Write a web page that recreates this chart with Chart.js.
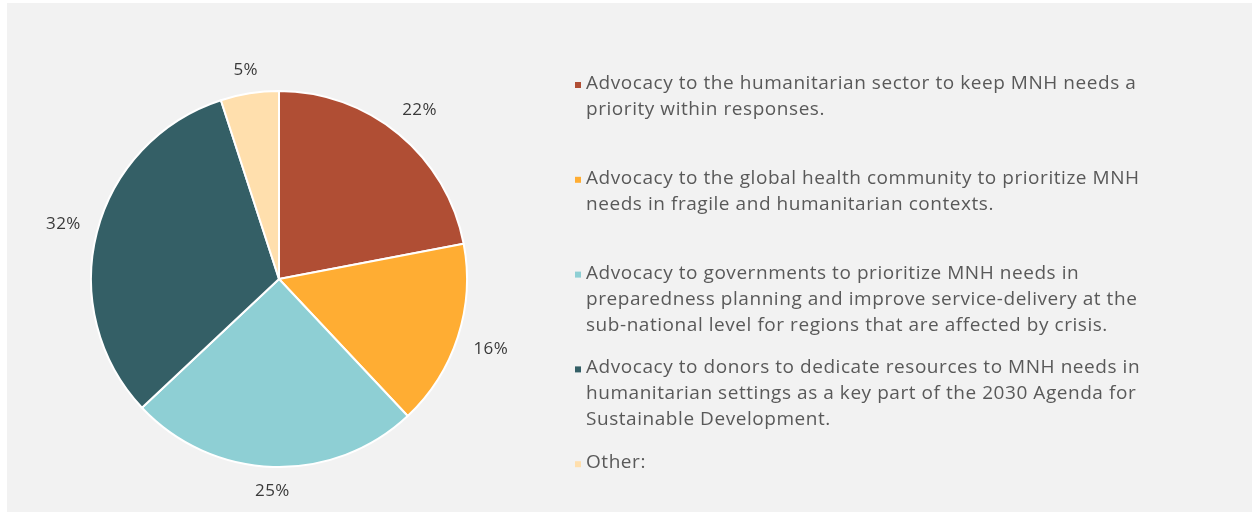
<!DOCTYPE html>
<html>
<head>
<meta charset="utf-8">
<script src="https://cdn.jsdelivr.net/npm/chart.js@4/dist/chart.umd.min.js"></script>
<style>
  html, body { margin: 0; padding: 0; background: #ffffff; }
  #wrap { position: absolute; left: 0; top: 0; width: 1252px; height: 512px; }
</style>
</head>
<body>
<div id="wrap"><canvas id="c" width="1252" height="512"></canvas></div>
<script>
// ---- data ----
const categories = [
  ["Advocacy to the humanitarian sector to keep MNH needs a", "priority within responses."],
  ["Advocacy to the global health community to prioritize MNH", "needs in fragile and humanitarian contexts."],
  ["Advocacy to governments to prioritize MNH needs in", "preparedness planning and improve service-delivery at the", "sub-national level for regions that are affected by crisis."],
  ["Advocacy to donors to dedicate resources to MNH needs in", "humanitarian settings as a key part of the 2030 Agenda for", "Sustainable Development."],
  ["Other:"]
];
const values = [22, 16, 25, 32, 5];
const sliceColors = ["#B04E34", "#FFAD33", "#8ECFD4", "#345F66", "#FFDFAD"];

const FONT = "'Open Sans', 'Noto Sans', sans-serif";

const bgPlugin = {
  id: 'bg',
  beforeDraw(chart) {
    const ctx = chart.ctx;
    ctx.save();
    ctx.fillStyle = '#ffffff';
    ctx.fillRect(0, 0, chart.width, chart.height);
    ctx.fillStyle = '#f2f2f2';
    ctx.fillRect(7, 3, chart.width - 7, chart.height - 3);
    ctx.restore();
  }
};

const pctLabels = {
  id: 'pctLabels',
  afterDatasetsDraw(chart) {
    const ctx = chart.ctx;
    const meta = chart.getDatasetMeta(0);
    const total = values.reduce((a, b) => a + b, 0);
    ctx.save();
    ctx.font = "17px " + FONT;
    if ('letterSpacing' in ctx) ctx.letterSpacing = '0.4px';
    ctx.fillStyle = '#3a3a3a';
    ctx.textAlign = 'center';
    ctx.textBaseline = 'middle';
    meta.data.forEach((arc, i) => {
      const p = arc.getProps(['x', 'y', 'startAngle', 'endAngle', 'outerRadius'], true);
      const mid = (p.startAngle + p.endAngle) / 2;
      const txt = Math.round(values[i] / total * 100) + '%';
      const w = ctx.measureText(txt).width;
      const h = 14;
      const c = Math.cos(mid), s = Math.sin(mid);
      const ext = Math.abs(c) * w / 2 + Math.abs(s) * h / 2;
      const d = p.outerRadius + 16 + ext;
      ctx.fillText(txt, p.x + c * d, p.y + s * d + 1);
    });
    ctx.restore();
  }
};

const legendPlugin = {
  id: 'customLegend',
  afterDraw(chart) {
    const ctx = chart.ctx;
    ctx.save();
    ctx.font = "19px " + FONT;
    if ('letterSpacing' in ctx) ctx.letterSpacing = '0.55px';
    ctx.textAlign = 'left';
    ctx.textBaseline = 'alphabetic';
    const x0 = 575, tx = 586, firstBase = 89, itemStep = 94.8, lineH = 26;
    categories.forEach((lines, i) => {
      const base = firstBase + i * itemStep;
      ctx.fillStyle = sliceColors[i];
      ctx.fillRect(x0, base - 7, 6, 6);
      ctx.fillStyle = '#595959';
      lines.forEach((ln, j) => ctx.fillText(ln, tx, base + j * lineH));
    });
    ctx.restore();
  }
};

new Chart(document.getElementById('c'), {
  type: 'pie',
  data: {
    labels: categories.map(l => l.join(' ')),
    datasets: [{
      data: values,
      backgroundColor: sliceColors,
      borderColor: '#ffffff',
      borderWidth: 2,
      radius: 188
    }]
  },
  options: {
    responsive: false,
    animation: false,
    events: [],
    layout: { padding: { left: 91, top: 91, right: 785, bottom: 45 } },
    plugins: {
      legend: { display: false },
      tooltip: { enabled: false }
    }
  },
  plugins: [bgPlugin, pctLabels, legendPlugin]
});
</script>
</body>
</html>
